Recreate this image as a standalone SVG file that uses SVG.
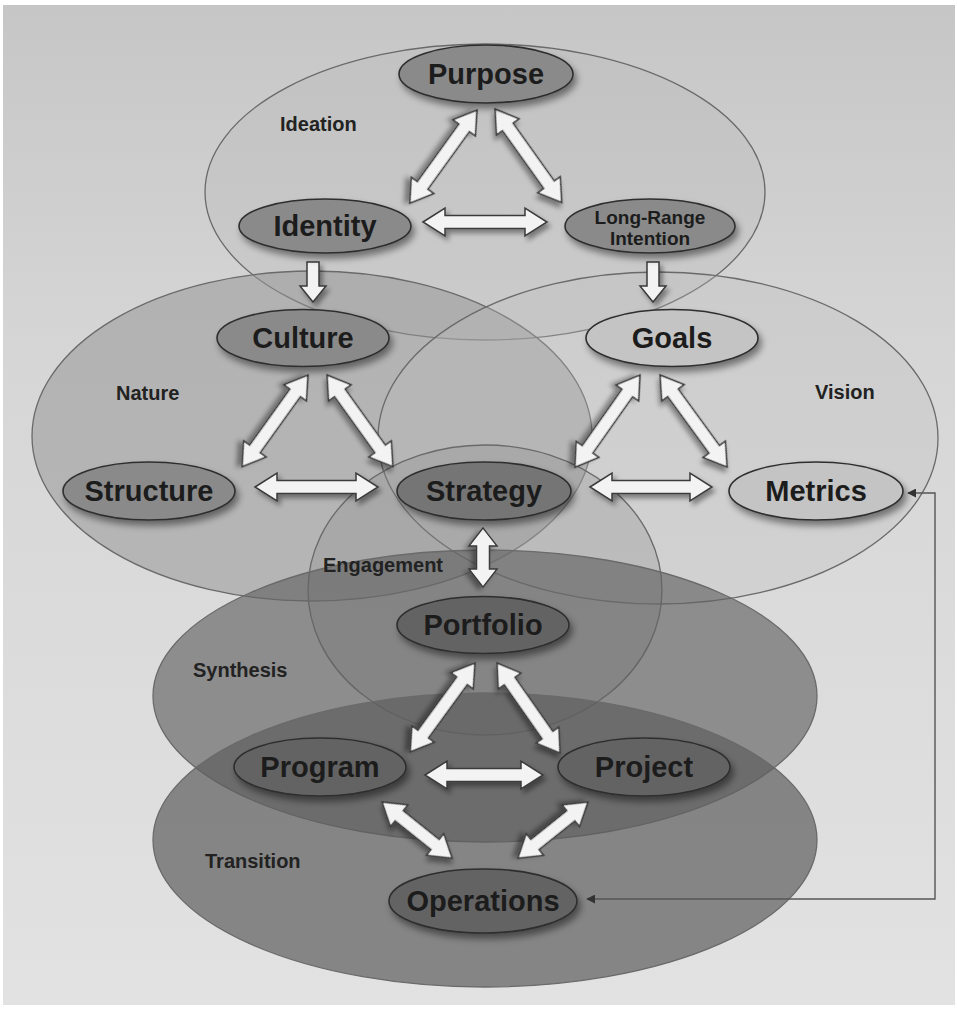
<svg xmlns="http://www.w3.org/2000/svg" width="957" height="1011" viewBox="0 0 957 1011">
  <defs>
    <linearGradient id="bg" x1="0" y1="0" x2="0" y2="1">
      <stop offset="0" stop-color="#c6c6c6"/>
      <stop offset="0.35" stop-color="#d6d6d6"/>
      <stop offset="1" stop-color="#e2e2e2"/>
    </linearGradient>
    <filter id="shadow" x="-20%" y="-30%" width="150%" height="180%">
      <feDropShadow dx="3" dy="5" stdDeviation="3.5" flood-color="#000" flood-opacity="0.45"/>
    </filter>
    <filter id="ashadow" x="-30%" y="-30%" width="160%" height="160%">
      <feDropShadow dx="3" dy="4" stdDeviation="2.5" flood-color="#000" flood-opacity="0.4"/>
    </filter>
    <marker id="tip" viewBox="0 0 10 10" refX="9" refY="5" markerWidth="9" markerHeight="9" markerUnits="userSpaceOnUse" orient="auto-start-reverse">
      <path d="M0,0 L10,5 L0,10 Z" fill="#333"/>
    </marker>
    <style>
      .zone { stroke: #6a6a6a; stroke-width: 1.3; }
      .node { stroke: #2e2e2e; stroke-width: 1.6; filter: url(#shadow); }
      .dark { fill: #8a8a8a; }
      .mid { fill: #747474; }
      .deep { fill: #646464; }
      .light { fill: #c4c4c4; }
      .t { font-family: "Liberation Sans", Arial, sans-serif; font-weight: bold; fill: #1c1c1c; text-anchor: middle; }
      .big { font-size: 29px; }
      .small { font-size: 19px; }
      .zlabel { font-family: "Liberation Sans", Arial, sans-serif; font-weight: bold; font-size: 20px; fill: #222; }
      .arrow { fill: #f3f3f3; stroke: #3a3a3a; stroke-width: 1.5; stroke-linejoin: miter; filter: url(#ashadow); }
      .link { fill: none; stroke: #555; stroke-width: 1.4; }
    </style>
  </defs>

  <!-- page -->
  <rect x="0" y="0" width="957" height="1011" fill="#ffffff"/>
  <rect x="3" y="5" width="952" height="1000" fill="url(#bg)"/>

  <!-- overlapping zones -->
  <g id="zones">
    <ellipse id="zone-ideation" class="zone" cx="485" cy="192" rx="280" ry="148" fill="#b4b4b4" fill-opacity="0.28"/>
    <ellipse id="zone-nature" class="zone" cx="312" cy="436" rx="280" ry="165" fill="#949494" fill-opacity="0.52"/>
    <ellipse id="zone-vision" class="zone" cx="658" cy="438" rx="280" ry="166" fill="#bcbcbc" fill-opacity="0.3"/>
    <ellipse id="zone-engagement" class="zone" cx="485" cy="590" rx="177" ry="145" fill="#8c8c8c" fill-opacity="0.3"/>
    <ellipse id="zone-synthesis" class="zone" cx="485" cy="696" rx="332" ry="146" fill="#646464" fill-opacity="0.66"/>
    <ellipse id="zone-transition" class="zone" cx="485" cy="840" rx="332" ry="147" fill="#5e5e5e" fill-opacity="0.7"/>
  </g>

  <!-- zone labels -->
  <g id="zone-labels">
    <text class="zlabel" x="280" y="131">Ideation</text>
    <text class="zlabel" x="116" y="400">Nature</text>
    <text class="zlabel" x="815" y="399">Vision</text>
    <text class="zlabel" x="323" y="572">Engagement</text>
    <text class="zlabel" x="193" y="677">Synthesis</text>
    <text class="zlabel" x="205" y="868">Transition</text>
  </g>

  <!-- connectors -->
  <g id="connectors">
    <!-- Ideation triangle -->
    <path class="arrow" transform="translate(477,110) rotate(125.8)" d="M0,0 L22,-14 L22,-6.5 L93,-6.5 L93,-14 L115,0 L93,14 L93,6.5 L22,6.5 L22,14 Z"/>
    <path class="arrow" transform="translate(495,109) rotate(54.5)" d="M0,0 L22,-14 L22,-6.5 L93,-6.5 L93,-14 L115,0 L93,14 L93,6.5 L22,6.5 L22,14 Z"/>
    <path class="arrow" transform="translate(423,222)" d="M0,0 L22,-14 L22,-6.5 L102,-6.5 L102,-14 L124,0 L102,14 L102,6.5 L22,6.5 L22,14 Z"/>
    <!-- down into Culture and Goals -->
    <path class="arrow" d="M307,262 H319 V286 H326 L313,302 L300,286 H307 Z"/>
    <path class="arrow" d="M647,262 H659 V286 H666 L653,302 L640,286 H647 Z"/>
    <!-- Nature triangle -->
    <path class="arrow" transform="translate(308,375) rotate(125.7)" d="M0,0 L22,-14 L22,-6.5 L91,-6.5 L91,-14 L113,0 L91,14 L91,6.5 L22,6.5 L22,14 Z"/>
    <path class="arrow" transform="translate(327,375) rotate(54.3)" d="M0,0 L22,-14 L22,-6.5 L91,-6.5 L91,-14 L113,0 L91,14 L91,6.5 L22,6.5 L22,14 Z"/>
    <path class="arrow" transform="translate(255,487)" d="M0,0 L22,-14 L22,-6.5 L101,-6.5 L101,-14 L123,0 L101,14 L101,6.5 L22,6.5 L22,14 Z"/>
    <!-- Vision triangle -->
    <path class="arrow" transform="translate(640,375) rotate(125.2)" d="M0,0 L22,-14 L22,-6.5 L91,-6.5 L91,-14 L113,0 L91,14 L91,6.5 L22,6.5 L22,14 Z"/>
    <path class="arrow" transform="translate(660,375) rotate(53.9)" d="M0,0 L22,-14 L22,-6.5 L92,-6.5 L92,-14 L114,0 L92,14 L92,6.5 L22,6.5 L22,14 Z"/>
    <path class="arrow" transform="translate(590,487)" d="M0,0 L22,-14 L22,-6.5 L100,-6.5 L100,-14 L122,0 L100,14 L100,6.5 L22,6.5 L22,14 Z"/>
    <!-- Strategy to Portfolio -->
    <path class="arrow" transform="translate(483,528) rotate(90)" d="M0,0 L18,-14 L18,-6.5 L41,-6.5 L41,-14 L59,0 L41,14 L41,6.5 L18,6.5 L18,14 Z"/>
    <!-- Synthesis triangle -->
    <path class="arrow" transform="translate(475,663) rotate(126.1)" d="M0,0 L22,-14 L22,-6.5 L88,-6.5 L88,-14 L110,0 L88,14 L88,6.5 L22,6.5 L22,14 Z"/>
    <path class="arrow" transform="translate(497,663) rotate(55)" d="M0,0 L22,-14 L22,-6.5 L88,-6.5 L88,-14 L110,0 L88,14 L88,6.5 L22,6.5 L22,14 Z"/>
    <path class="arrow" transform="translate(425,775)" d="M0,0 L22,-14 L22,-6.5 L96,-6.5 L96,-14 L118,0 L96,14 L96,6.5 L22,6.5 L22,14 Z"/>
    <!-- Transition pair -->
    <path class="arrow" transform="translate(382,802) rotate(38.7)" d="M0,0 L22,-14 L22,-6.5 L68,-6.5 L68,-14 L90,0 L68,14 L68,6.5 L22,6.5 L22,14 Z"/>
    <path class="arrow" transform="translate(588,802) rotate(141.3)" d="M0,0 L22,-14 L22,-6.5 L68,-6.5 L68,-14 L90,0 L68,14 L68,6.5 L22,6.5 L22,14 Z"/>
    <!-- feedback line between Metrics and Operations -->
    <path class="link" d="M908,493 H935 V899 H587" marker-start="url(#tip)" marker-end="url(#tip)"/>
  </g>

  <!-- nodes -->
  <g id="node-purpose">
    <ellipse class="node dark" cx="486" cy="74" rx="87" ry="29"/>
    <text class="t big" x="486" y="84">Purpose</text>
  </g>
  <g id="node-identity">
    <ellipse class="node dark" cx="325" cy="226" rx="86" ry="27"/>
    <text class="t big" x="325" y="236">Identity</text>
  </g>
  <g id="node-long-range-intention">
    <ellipse class="node dark" cx="650" cy="226" rx="85" ry="27"/>
    <text class="t small" x="650" y="224">Long-Range</text>
    <text class="t small" x="650" y="245">Intention</text>
  </g>
  <g id="node-culture">
    <ellipse class="node dark" cx="303" cy="338" rx="86" ry="28.5"/>
    <text class="t big" x="303" y="348">Culture</text>
  </g>
  <g id="node-goals">
    <ellipse class="node light" cx="672" cy="338" rx="86" ry="28.5"/>
    <text class="t big" x="672" y="348">Goals</text>
  </g>
  <g id="node-structure">
    <ellipse class="node dark" cx="149" cy="491" rx="86" ry="29"/>
    <text class="t big" x="149" y="501">Structure</text>
  </g>
  <g id="node-strategy">
    <ellipse class="node mid" cx="484" cy="491" rx="87" ry="29"/>
    <text class="t big" x="484" y="501">Strategy</text>
  </g>
  <g id="node-metrics">
    <ellipse class="node light" cx="816" cy="491" rx="87" ry="29"/>
    <text class="t big" x="816" y="501">Metrics</text>
  </g>
  <g id="node-portfolio">
    <ellipse class="node deep" cx="483" cy="625" rx="86" ry="28.5"/>
    <text class="t big" x="483" y="635">Portfolio</text>
  </g>
  <g id="node-program">
    <ellipse class="node deep" cx="320" cy="767" rx="86" ry="29"/>
    <text class="t big" x="320" y="777">Program</text>
  </g>
  <g id="node-project">
    <ellipse class="node deep" cx="644" cy="767" rx="86" ry="29"/>
    <text class="t big" x="644" y="777">Project</text>
  </g>
  <g id="node-operations">
    <ellipse class="node deep" cx="483" cy="901" rx="94" ry="32"/>
    <text class="t big" x="483" y="911">Operations</text>
  </g>
</svg>
